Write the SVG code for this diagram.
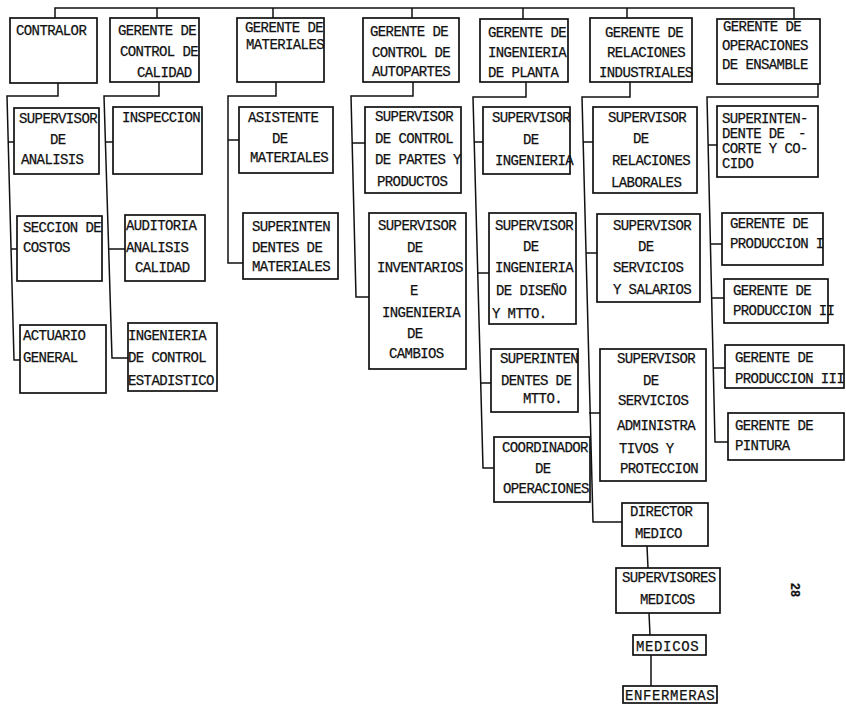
<svg xmlns="http://www.w3.org/2000/svg" width="846" height="708" viewBox="0 0 846 708">
<style>
.b{fill:#fff;stroke:#111;stroke-width:1.7}
.c{fill:none;stroke:#111;stroke-width:1.5}
text{font-family:"Liberation Mono","DejaVu Sans Mono",monospace;font-size:14px;letter-spacing:-0.6px;fill:#111;stroke:#111;stroke-width:0.25}
</style>
<rect width="846" height="708" fill="#fff"/>
<g id="connectors">
<path class="c" d="M55 19V8H794V19M157 8V18M273 8V18M412 8V18M523 8V19M627 8V18"/>
<path class="c" d="M58 83V96H7L14 360H20M8 142H14M11 249H17"/>
<path class="c" d="M159 82V96H104L112 358H128M106 142H113M108 249H125"/>
<path class="c" d="M276 82V96H228V263H243M228 140H239"/>
<path class="c" d="M413 82V96H351L356 297H369M352 143H365"/>
<path class="c" d="M526 82V97H473L483 468H494M474 142H483M478 273H489M480 383H491"/>
<path class="c" d="M630 82V97H582L593 522H622M583 142H593M586 253H597M589 413H600"/>
<path class="c" d="M647 546L648 568M649 613L650 635M651 655V686"/>
<path class="c" d="M818 84V97H707L715 442H728M708 145H717M710 244H722M711 298H724M713 368H725"/>
</g>
<g id="n1"><rect class="b" x="10" y="18" width="87" height="65"/><text x="16" y="35">CONTRALOR</text></g>
<g id="n2"><rect class="b" x="110" y="18" width="89" height="64"/><text x="118" y="35">GERENTE DE</text><text x="120" y="56">CONTROL DE</text><text x="137" y="77">CALIDAD</text></g>
<g id="n3"><rect class="b" x="237" y="18" width="87" height="64"/><text x="245" y="32">GERENTE DE</text><text x="246" y="49">MATERIALES</text></g>
<g id="n4"><rect class="b" x="363" y="18" width="96" height="64"/><text x="370" y="36">GERENTE DE</text><text x="372" y="57">CONTROL DE</text><text x="372" y="76">AUTOPARTES</text></g>
<g id="n5"><rect class="b" x="480" y="19" width="88" height="63"/><text x="488" y="37">GERENTE DE</text><text x="488" y="57">INGENIERIA</text><text x="488" y="77">DE PLANTA</text></g>
<g id="n6"><rect class="b" x="590" y="18" width="102" height="64"/><text x="605" y="37">GERENTE DE</text><text x="607" y="57">RELACIONES</text><text x="599" y="77">INDUSTRIALES</text></g>
<g id="n7"><rect class="b" x="717" y="19" width="103" height="65"/><text x="723" y="31">GERENTE DE</text><text x="722" y="50">OPERACIONES</text><text x="722" y="69">DE ENSAMBLE</text></g>
<g id="n1a"><rect class="b" x="14" y="108" width="85" height="66"/><text x="19" y="123">SUPERVISOR</text><text x="50" y="144">DE</text><text x="21" y="164">ANALISIS</text></g>
<g id="n1b"><rect class="b" x="17" y="216" width="85" height="65"/><text x="23" y="232">SECCION DE</text><text x="23" y="252">COSTOS</text></g>
<g id="n1c"><rect class="b" x="20" y="325" width="86" height="68"/><text x="23" y="340">ACTUARIO</text><text x="23" y="362">GENERAL</text></g>
<g id="n2a"><rect class="b" x="113" y="107" width="89" height="67"/><text x="122" y="122">INSPECCION</text></g>
<g id="n2b"><rect class="b" x="125" y="215" width="80" height="66"/><text x="126" y="230">AUDITORIA</text><text x="126" y="252">ANALISIS</text><text x="135" y="272">CALIDAD</text></g>
<g id="n2c"><rect class="b" x="128" y="323" width="89" height="68"/><text x="128" y="340">INGENIERIA</text><text x="128" y="362">DE CONTROL</text><text x="128" y="385">ESTADISTICO</text></g>
<g id="n3a"><rect class="b" x="239" y="107" width="94" height="66"/><text x="248" y="122">ASISTENTE</text><text x="272" y="143">DE</text><text x="250" y="162">MATERIALES</text></g>
<g id="n3b"><rect class="b" x="243" y="213" width="95" height="66"/><text x="252" y="231">SUPERINTEN</text><text x="252" y="252">DENTES DE</text><text x="252" y="271">MATERIALES</text></g>
<g id="n4a"><rect class="b" x="365" y="107" width="96" height="86"/><text x="375" y="121">SUPERVISOR</text><text x="375" y="143">DE CONTROL</text><text x="375" y="164">DE PARTES Y</text><text x="377" y="186">PRODUCTOS</text></g>
<g id="n4b"><rect class="b" x="369" y="213" width="97" height="156"/><text x="378" y="230">SUPERVISOR</text><text x="407" y="252">DE</text><text x="377" y="272">INVENTARIOS</text><text x="410" y="295">E</text><text x="382" y="317">INGENIERIA</text><text x="407" y="338">DE</text><text x="389" y="358">CAMBIOS</text></g>
<g id="n5a"><rect class="b" x="483" y="107" width="87" height="67"/><text x="492" y="122">SUPERVISOR</text><text x="523" y="144">DE</text><text x="495" y="165">INGENIERIA</text></g>
<g id="n5b"><rect class="b" x="489" y="213" width="87" height="111"/><text x="495" y="230">SUPERVISOR</text><text x="523" y="251">DE</text><text x="495" y="272">INGENIERIA</text><text x="496" y="295">DE DISEÑO</text><text x="492" y="318">Y MTTO.</text></g>
<g id="n5c"><rect class="b" x="491" y="349" width="87" height="63"/><text x="500" y="363">SUPERINTEN</text><text x="501" y="385">DENTES DE</text><text x="523" y="403">MTTO.</text></g>
<g id="n5d"><rect class="b" x="494" y="437" width="96" height="65"/><text x="502" y="452">COORDINADOR</text><text x="535" y="473">DE</text><text x="503" y="493">OPERACIONES</text></g>
<g id="n6a"><rect class="b" x="593" y="107" width="104" height="86"/><text x="608" y="122">SUPERVISOR</text><text x="633" y="143">DE</text><text x="612" y="165">RELACIONES</text><text x="611" y="187">LABORALES</text></g>
<g id="n6b"><rect class="b" x="597" y="214" width="103" height="88"/><text x="613" y="230">SUPERVISOR</text><text x="638" y="251">DE</text><text x="613" y="272">SERVICIOS</text><text x="613" y="294">Y SALARIOS</text></g>
<g id="n6c"><rect class="b" x="600" y="349" width="106" height="132"/><text x="617" y="363">SUPERVISOR</text><text x="643" y="385">DE</text><text x="618" y="405">SERVICIOS</text><text x="617" y="430">ADMINISTRA</text><text x="619" y="453">TIVOS Y</text><text x="620" y="473">PROTECCION</text></g>
<g id="n6d"><rect class="b" x="622" y="503" width="86" height="43"/><text x="630" y="516">DIRECTOR</text><text x="635" y="538">MEDICO</text></g>
<g id="n6e"><rect class="b" x="616" y="568" width="104" height="45"/><text x="622" y="582">SUPERVISORES</text><text x="640" y="604">MEDICOS</text></g>
<g id="n6f"><rect class="b" x="633" y="635" width="73" height="20"/><text x="636" y="651" textLength="62">MEDICOS</text></g>
<g id="n6g"><rect class="b" x="623" y="686" width="94" height="17"/><text x="625" y="700" textLength="89">ENFERMERAS</text></g>
<g id="n7a"><rect class="b" x="717" y="106" width="101" height="71"/><text x="722" y="123">SUPERINTEN-</text><text x="722" y="138">DENTE DE</text><text x="798" y="138">-</text><text x="722" y="153">CORTE Y CO-</text><text x="722" y="168">CIDO</text></g>
<g id="n7b"><rect class="b" x="722" y="213" width="101" height="52"/><text x="730" y="228">GERENTE DE</text><text x="730" y="248">PRODUCCION I</text></g>
<g id="n7c"><rect class="b" x="724" y="279" width="104" height="44"/><text x="733" y="295">GERENTE DE</text><text x="733" y="315">PRODUCCION II</text></g>
<g id="n7d"><rect class="b" x="725" y="345" width="119" height="43"/><text x="735" y="362">GERENTE DE</text><text x="735" y="383">PRODUCCION III</text></g>
<g id="n7e"><rect class="b" x="728" y="413" width="116" height="47"/><text x="735" y="430">GERENTE DE</text><text x="735" y="450">PINTURA</text></g>
<text x="794" y="590" transform="rotate(90 794 590)" text-anchor="middle" dominant-baseline="middle" style="font-size:12px;font-weight:bold;letter-spacing:0">28</text>
</svg>
